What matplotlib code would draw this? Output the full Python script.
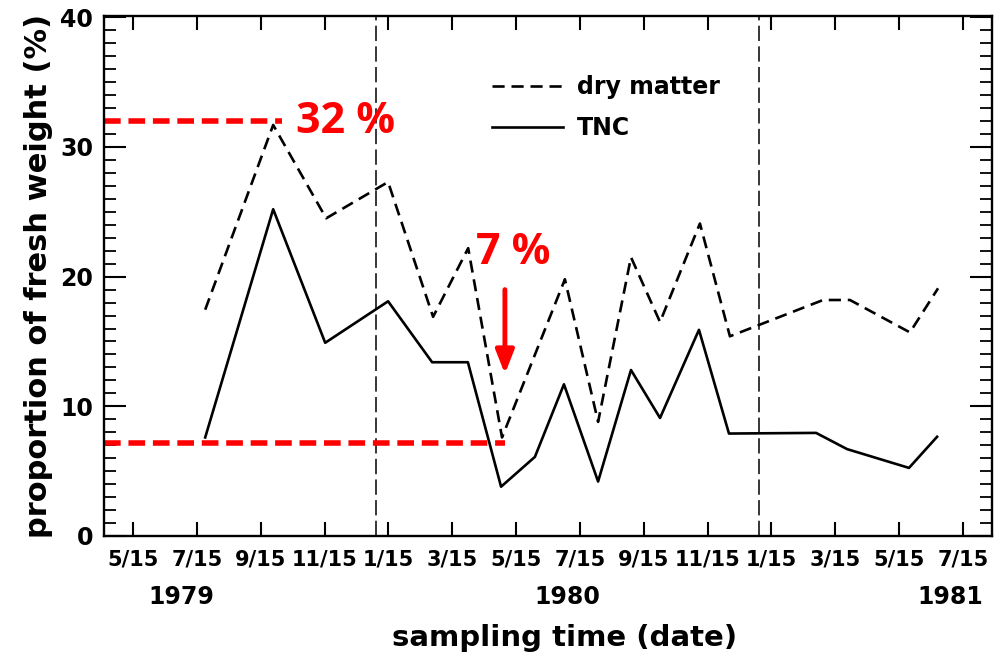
import matplotlib
matplotlib.use("Agg")
import matplotlib.pyplot as plt
from matplotlib.ticker import MultipleLocator, FixedLocator

# x = months since 1 Jan 1979 (15th of a month = month index + 0.5)
dm_month = [6.76, 8.89, 10.55, 12.49, 13.9, 15.0, 16.06, 18.03, 19.07, 20.1,
            21.01, 22.26, 23.2, 26.12, 26.96, 28.84, 29.72]
dm_pct = [17.45, 31.7, 24.5, 27.3, 16.9, 22.2, 7.6, 19.8, 8.8, 21.5,
          16.5, 24.1, 15.4, 18.2, 18.2, 15.7, 19.1]

tnc_month = [6.76, 8.89, 10.52, 12.49, 13.87, 14.99, 16.03, 17.09, 18.0, 19.07,
             20.1, 21.01, 22.23, 23.17, 25.9, 26.87, 28.81, 29.69]
tnc_pct = [7.6, 25.2, 14.9, 18.1, 13.4, 13.4, 3.8, 6.1, 11.7, 4.2,
           12.8, 9.1, 15.9, 7.9, 7.95, 6.7, 5.25, 7.65]

tick_month = [4.5, 6.5, 8.5, 10.5, 12.5, 14.5, 16.5, 18.5, 20.5, 22.5, 24.5, 26.5, 28.5, 30.5]
tick_labels = ["5/15", "7/15", "9/15", "11/15", "1/15", "3/15",
               "5/15", "7/15", "9/15", "11/15", "1/15", "3/15", "5/15", "7/15"]
year_month = [6.0, 18.1, 30.1]
year_labels = ["1979", "1980", "1981"]
year_breaks = [12.1, 24.1]

hi_pct, hi_end = 32.0, 9.17
lo_pct, lo_end = 7.2, 16.15

fig = plt.figure(figsize=(10.04, 6.57), dpi=100)
ax = fig.add_axes([0.1036, 0.1842, 0.8841, 0.7914])

ax.plot(dm_month, dm_pct, color="black", lw=1.9, dashes=(4.6, 2.6), label="dry matter")
ax.plot(tnc_month, tnc_pct, color="black", lw=1.9, label="TNC")

for xb in year_breaks:
    ax.axvline(xb, color="black", lw=1.1, dashes=(10, 3.5))

xmin, xmax = 3.59, 31.4
ax.set_xlim(xmin, xmax)
ax.set_ylim(0, 40.1)

# red annotations
ax.plot([xmin, hi_end], [hi_pct, hi_pct], color="#ff0000", lw=4, dashes=(3, 1.4), solid_capstyle="butt")
ax.plot([xmin, lo_end], [lo_pct, lo_pct], color="#ff0000", lw=4, dashes=(3, 1.4), solid_capstyle="butt")
ax.text(9.6, hi_pct, "32 %", color="#ff0000", fontsize=31, fontweight="bold",
        ha="left", va="center", family="Open Sans")
ax.text(16.4, 21.9, "7 %", color="#ff0000", fontsize=31, fontweight="bold",
        ha="center", va="center", family="Open Sans")
ax.annotate("", xy=(16.15, 12.5), xytext=(16.15, 19.0),
            arrowprops=dict(arrowstyle="-|>,head_length=1.4,head_width=0.55",
                            color="#ff0000", lw=3.5, shrinkA=0, shrinkB=0))

for s in ax.spines.values():
    s.set_linewidth(1.7)

ax.yaxis.set_major_locator(MultipleLocator(10))
ax.yaxis.set_minor_locator(MultipleLocator(1))
ax.xaxis.set_major_locator(FixedLocator(tick_month))
ax.set_xticklabels(tick_labels)
ax.tick_params(axis="y", which="major", direction="in", length=16, width=1.5,
               right=True, labelsize=17, pad=8)
ax.tick_params(axis="y", which="minor", direction="in", length=8.5, width=1.3, right=True)
ax.tick_params(axis="x", which="major", direction="in", length=10, width=1.5,
               top=True, labelsize=15, pad=10)
for lab in ax.get_xticklabels() + ax.get_yticklabels():
    lab.set_fontweight("bold")

for xm, yl in zip(year_month, year_labels):
    ax.text(xm, -4.7, yl, ha="center", va="center", fontsize=17, fontweight="bold")

ax.set_xlabel("sampling time (date)", fontsize=21, fontweight="bold")
ax.xaxis.set_label_coords(0.519, -0.17)
ax.set_ylabel("proportion of fresh weight (%)", fontsize=22, fontweight="bold", labelpad=5)

ax.legend(loc="upper left", bbox_to_anchor=(0.437, 0.887), frameon=False,
          prop={"size": 17, "weight": "bold"}, handlelength=3.0, handletextpad=0.6,
          labelspacing=0.75, borderpad=0, borderaxespad=0)

fig.savefig("out.png", dpi=100)
